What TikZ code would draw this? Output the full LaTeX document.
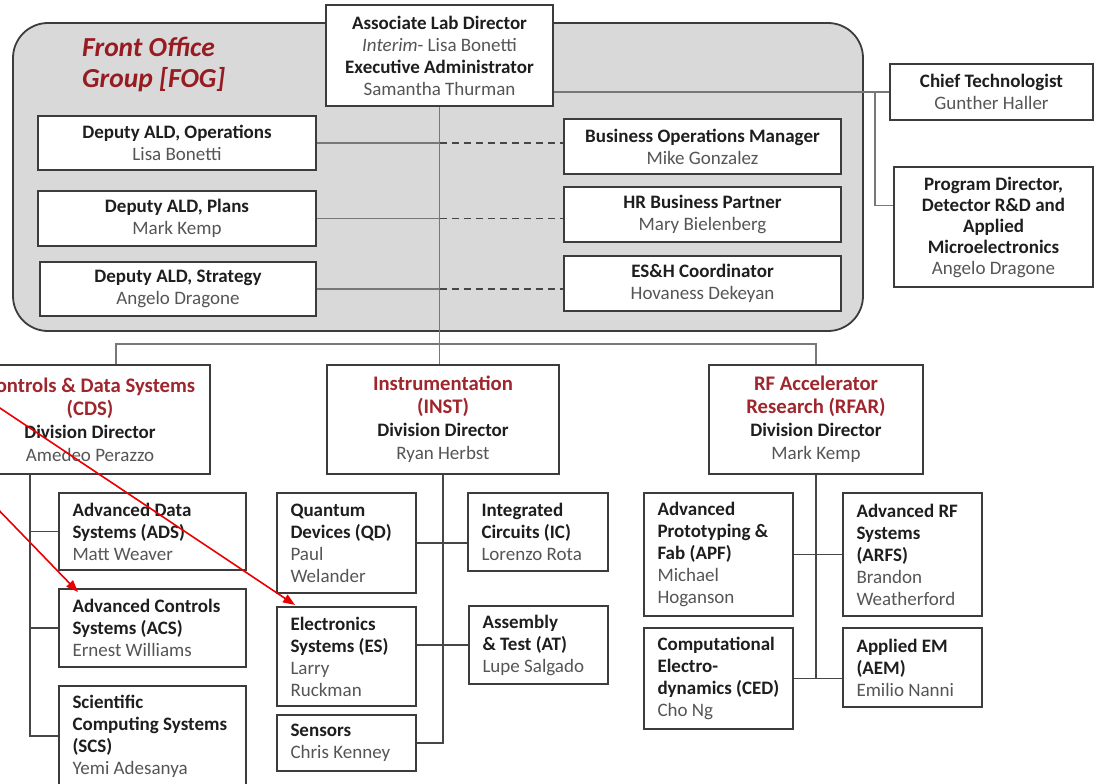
\documentclass[tikz,border=0pt]{standalone}
\usepackage{fontspec}
\setmainfont{Carlito}
\usetikzlibrary{arrows.meta}
\definecolor{boxc}{RGB}{60,60,60}
\definecolor{linec}{RGB}{70,70,70}
\definecolor{thinc}{RGB}{120,120,120}
\definecolor{titlec}{RGB}{30,30,30}
\definecolor{namec}{RGB}{85,85,85}
\definecolor{headc}{RGB}{158,38,44}
\definecolor{fogred}{RGB}{150,28,34}
\definecolor{fogfill}{RGB}{217,217,217}
\definecolor{arrowred}{RGB}{232,0,0}
\newcommand{\bT}[1]{\mbox{\textcolor{titlec}{\textbf{#1}}}}
\newcommand{\nN}[1]{\mbox{\textcolor{namec}{#1}}}
\newcommand{\rT}[1]{\mbox{\fontsize{20.7}{23}\selectfont\textcolor{headc}{\textbf{#1}}}}
\tikzset{
  box/.style={draw=boxc, line width=1.8pt, fill=white, inner sep=0pt, align=center,
    font=\fontsize{19}{22}\selectfont},
  divbox/.style={box, font=\fontsize{19}{23}\selectfont},
  lbox/.style={box, align=flush left, inner xsep=13.5pt},
  conn/.style={draw=linec, line width=1.6pt},
  thin/.style={draw=thinc, line width=1.2pt},
  dashc/.style={draw=linec, line width=1.5pt, dash pattern=on 7pt off 5pt},
  redarrow/.style={draw=arrowred, line width=1.6pt, -{Triangle[length=12pt,width=9pt]}},
}
\begin{document}
\begin{tikzpicture}[x=1pt,y=-1pt]
\useasboundingbox (0,0) rectangle (1095,784);
\clip (0,0) rectangle (1095,784);

% Front office group background
\draw[draw=boxc, line width=1.8pt, fill=fogfill, rounded corners=35pt] (13,23) rectangle (863,331);
\node[anchor=west, align=flush left, inner sep=0pt, text=fogred,
      font=\fontsize{27.5}{31}\selectfont\bfseries\itshape] (fog) at (82,64.5) {Front Office\\Group [FOG]};

% top
\node[box, minimum width=227pt, minimum height=101pt] (ald) at (439.5,55.5)
  {\bT{Associate Lab Director}\\ \nN{\textit{Interim}- Lisa Bonetti}\\ \bT{Executive Administrator}\\ \nN{Samantha Thurman}};

\node[box, minimum width=278pt, minimum height=54pt] (dops) at (177,143)
  {\bT{Deputy ALD, Operations}\\ \nN{Lisa Bonetti}};
\node[box, minimum width=278pt, minimum height=55pt] (dplans) at (177,218.5)
  {\bT{Deputy ALD, Plans}\\ \nN{Mark Kemp}};
\node[box, minimum width=276pt, minimum height=54pt] (dstrat) at (178,289)
  {\bT{Deputy ALD, Strategy}\\ \nN{Angelo Dragone}};

\node[box, minimum width=277pt, minimum height=55pt] (bom) at (702.5,146.5)
  {\bT{Business Operations Manager}\\ \nN{Mike Gonzalez}};
\node[box, minimum width=277pt, minimum height=55pt] (hr) at (702.5,214.5)
  {\bT{HR Business Partner}\\ \nN{Mary Bielenberg}};
\node[box, minimum width=277pt, minimum height=55pt] (esh) at (702.5,283.5)
  {\bT{ES\&H Coordinator}\\ \nN{Hovaness Dekeyan}};

\node[box, minimum width=203pt, minimum height=56pt] (chief) at (991.5,92)
  {\bT{Chief Technologist}\\ \nN{Gunther Haller}};
\node[box, minimum width=199pt, minimum height=120pt, font=\fontsize{19}{21}\selectfont] (pd) at (993.5,227)
  {\bT{Program Director,}\\ \bT{Detector R\&D and}\\ \bT{Applied}\\ \bT{Microelectronics}\\ \nN{Angelo Dragone}};

% divisions
\node[divbox, minimum width=240pt, minimum height=109pt] (cds) at (90,419.5)
  {\rT{Controls \& Data Systems}\\ \rT{(CDS)}\\ \bT{Division Director}\\ \nN{Amedeo Perazzo}};
\node[divbox, minimum width=232pt, minimum height=109pt] (inst) at (443,419.5)
  {\rT{Instrumentation}\\ \rT{(INST)}\\ \bT{Division Director}\\ \nN{Ryan Herbst}};
\node[divbox, minimum width=214pt, minimum height=109pt] (rfar) at (816,419.5)
  {\rT{RF Accelerator}\\ \rT{Research (RFAR)}\\ \bT{Division Director}\\ \nN{Mark Kemp}};

% CDS groups
\node[lbox, minimum width=187pt, text width=160pt, minimum height=77pt] (ads) at (152.5,531.5)
  {\bT{Advanced Data}\\ \bT{Systems (ADS)}\\ \nN{Matt Weaver}};
\node[lbox, minimum width=187pt, text width=160pt, minimum height=78pt] (acs) at (152.5,628)
  {\bT{Advanced Controls}\\ \bT{Systems (ACS)}\\ \nN{Ernest Williams}};
\node[lbox, minimum width=187pt, text width=160pt, minimum height=100pt] (scs) at (152.5,736)
  {\bT{Scientific}\\ \bT{Computing Systems}\\ \bT{(SCS)}\\ \nN{Yemi Adesanya}};

% INST groups
\node[lbox, minimum width=139pt, text width=112pt, minimum height=100pt] (qd) at (346.5,543)
  {\bT{Quantum}\\ \bT{Devices (QD)}\\ \nN{Paul}\\ \nN{Welander}};
\node[lbox, minimum width=139pt, text width=112pt, minimum height=99pt] (es) at (346.5,656.5)
  {\bT{Electronics}\\ \bT{Systems (ES)}\\ \nN{Larry}\\ \nN{Ruckman}};
\node[lbox, minimum width=139pt, text width=112pt, minimum height=56pt] (sensors) at (346.5,743)
  {\bT{Sensors}\\ \nN{Chris Kenney}};
\node[lbox, minimum width=140pt, text width=113pt, minimum height=78pt] (ic) at (538,532)
  {\bT{Integrated}\\ \bT{Circuits (IC)}\\ \nN{Lorenzo Rota}};
\node[lbox, minimum width=139pt, text width=112pt, minimum height=78pt] (at) at (538.5,645)
  {\bT{Assembly}\\ \bT{\& Test (AT)}\\ \nN{Lupe Salgado}};

% RFAR groups
\node[lbox, minimum width=149pt, text width=122pt, minimum height=123pt] (apf) at (718.5,554.5)
  {\bT{Advanced}\\ \bT{Prototyping \&}\\ \bT{Fab (APF)}\\ \nN{Michael}\\ \nN{Hoganson}};
\node[lbox, minimum width=139pt, text width=112pt, minimum height=123pt] (arfs) at (912.5,554.5)
  {\bT{Advanced RF}\\ \bT{Systems}\\ \bT{(ARFS)}\\ \nN{Brandon}\\ \nN{Weatherford}};
\node[lbox, minimum width=149pt, text width=122pt, minimum height=101pt] (ced) at (718.5,678.5)
  {\bT{Computational}\\ \bT{Electro-}\\ \bT{dynamics (CED)}\\ \nN{Cho Ng}};
\node[lbox, minimum width=139pt, text width=112pt, minimum height=79pt] (aem) at (912.5,667.5)
  {\bT{Applied EM}\\ \bT{(AEM)}\\ \nN{Emilio Nanni}};

% --- connectors: front office
\coordinate (bary) at (0,344);
\draw[thin] (ald.south) -- (ald.south |- inst.north);
\draw[thin] (dops.east) -- (dops.east -| ald.south);
\draw[thin] (dplans.east) -- (dplans.east -| ald.south);
\draw[thin] (dstrat.east) -- (dstrat.east -| ald.south);
\draw[dashc] (dops.east -| ald.south) -- (dops.east -| bom.west);
\draw[dashc] (dplans.east -| ald.south) -- (dplans.east -| hr.west);
\draw[dashc] (dstrat.east -| ald.south) -- (dstrat.east -| esh.west);

% chief technologist / program director
\coordinate (pdj) at (875,0);
\draw[thin] (chief.west -| ald.east) -- (chief.west);
\draw[thin] (chief.west -| pdj) |- (pd.168);

% division bar
\coordinate (cdsdrop) at ([xshift=26pt]cds.north);
\draw[thin] (cdsdrop) -- (cdsdrop |- bary) -- (rfar.north |- bary) -- (rfar.north);

% CDS tree
\coordinate (cdsv) at ([xshift=61pt]cds.south west);
\draw[conn] (cdsv) |- (scs.west);
\draw[conn] (ads.west) -- (ads.west -| cdsv);
\draw[conn] (acs.west) -- (acs.west -| cdsv);

% INST tree
\draw[conn] (inst.south) |- (sensors.east);
\draw[conn] (qd.east) -- (qd.east -| ic.west);
\draw[conn] (es.east |- at.west) -- (at.west);

% RFAR tree
\draw[conn] (rfar.south) -- (rfar.south |- ced.east);
\draw[conn] (apf.east) -- (apf.east -| arfs.west);
\draw[conn] (ced.east) -- (ced.east -| aem.west);

% red arrows
\coordinate (ra1) at (-60,368);
\coordinate (tipA) at (295,605);
\coordinate (ra2) at (-40,470);
\coordinate (tipB) at (78,592);
\draw[redarrow] (ra1) -- (tipA);
\draw[redarrow] (ra2) -- (tipB);
\end{tikzpicture}
\end{document}
